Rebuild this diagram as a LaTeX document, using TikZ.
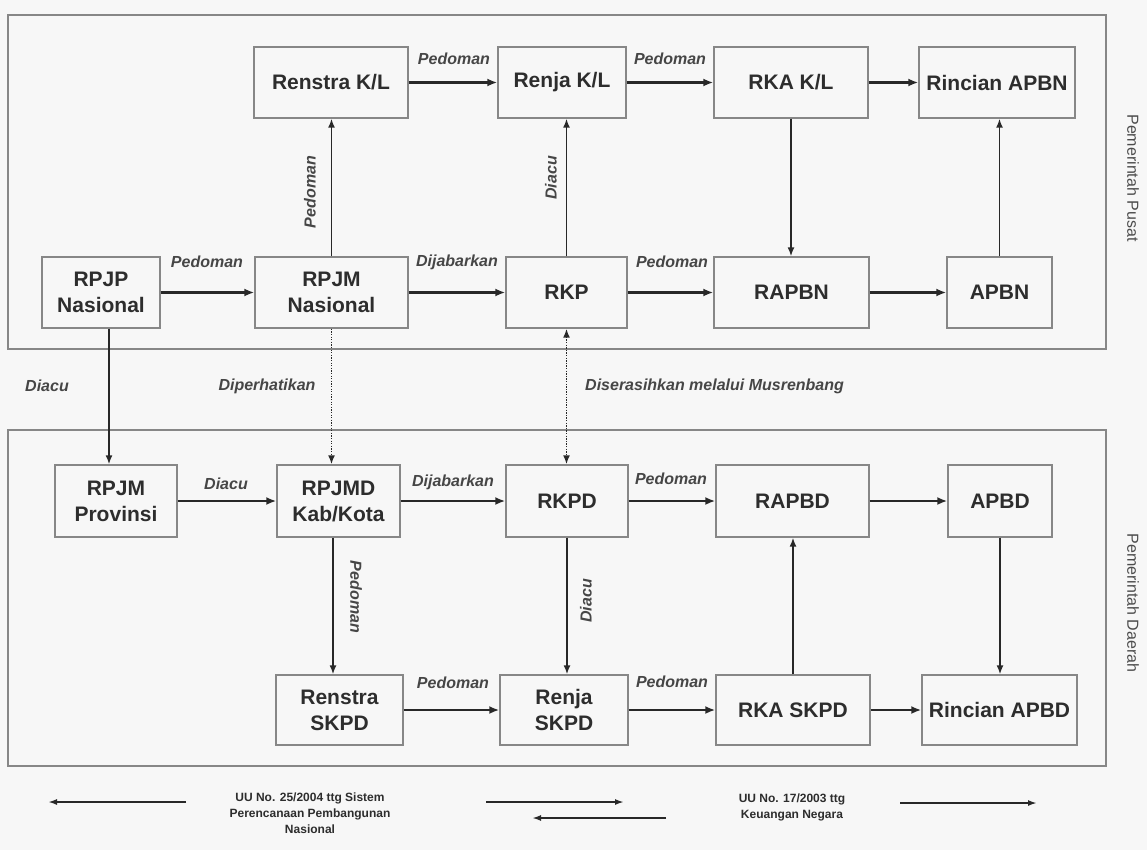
\documentclass[tikz,border=0pt]{standalone}
\usepackage{fontspec}
\setmainfont{Liberation Sans}
\usetikzlibrary{arrows.meta}
\definecolor{bg}{RGB}{247,247,247}
\definecolor{boxc}{RGB}{135,135,135}
\definecolor{txt}{RGB}{45,45,45}
\definecolor{arr}{RGB}{40,40,40}
\definecolor{lblc}{RGB}{70,70,70}
\begin{document}
\begin{tikzpicture}[x=1pt,y=-1pt,
  box/.style={draw=boxc, line width=1.4pt, inner sep=0pt, align=center, text=txt, font=\fontsize{21}{26}\selectfont\bfseries},
  sz/.style 2 args={minimum width=#1pt, minimum height=#2pt},
  region/.style={draw=boxc, line width=1.4pt},
  harr/.style={draw=arr, line width=2.6pt, -{Latex[length=10pt,width=8pt]}},
  varr/.style={draw=arr, line width=1.6pt, -{Latex[length=9pt,width=7pt]}},
  dotarr/.style={draw=arr, line width=1.7pt, dash pattern=on 1.3pt off 1.3pt},
  lbl/.style={text=lblc, font=\fontsize{16}{18}\selectfont\bfseries\itshape, inner sep=0pt},
  side/.style={text=txt!85, font=\fontsize{16}{18}\selectfont, inner sep=0pt},
  legtxt/.style={text=txt, font=\fontsize{12}{16}\selectfont\bfseries, align=center, inner sep=0pt},
  legarr/.style={draw=arr, line width=1.8pt, -{Latex[length=9pt,width=6pt]}}
]
\useasboundingbox (0,0) rectangle (1147,850);
\fill[bg] (0,0) rectangle (1147,850);

% regions
\draw[region] (8,15) rectangle (1106,349);
\draw[region] (8,430) rectangle (1106,766);
\node[side, rotate=-90] (pusat) at (1133,178) {Pemerintah Pusat};
\node[side, rotate=-90] (daerah) at (1133,603) {Pemerintah Daerah};

% top region boxes
\node[box, sz={154}{71}] (renstrakl) at (331,82.5) {Renstra K/L};
\node[box, sz={128}{71}] (renjakl) at (562,82.5) {Renja K/L};
\node[box, sz={154}{71}] (rkakl) at (791,82.5) {RKA K/L};
\node[box, sz={156}{71}] (rincianapbn) at (997,82.5) {Rincian APBN};
\node[box, sz={118}{71}] (rpjp) at (101,292.5) {RPJP\\Nasional};
\node[box, sz={153}{71}] (rpjmn) at (331.5,292.5) {RPJM\\Nasional};
\node[box, sz={121}{71}] (rkp) at (566.5,292.5) {RKP};
\node[box, sz={155}{71}] (rapbn) at (791.5,292.5) {RAPBN};
\node[box, sz={105}{71}] (apbn) at (999.5,292.5) {APBN};

% bottom region boxes
\node[box, sz={122}{72}] (rpjmprov) at (116,501) {RPJM\\Provinsi};
\node[box, sz={123}{72}] (rpjmd) at (338.5,501) {RPJMD\\Kab/Kota};
\node[box, sz={122}{72}] (rkpd) at (567,501) {RKPD};
\node[box, sz={153}{72}] (rapbd) at (792.5,501) {RAPBD};
\node[box, sz={104}{72}] (apbd) at (1000,501) {APBD};
\node[box, sz={127}{70}] (renstraskpd) at (339.5,710) {Renstra\\SKPD};
\node[box, sz={128}{70}] (renjaskpd) at (564,710) {Renja\\SKPD};
\node[box, sz={154}{70}] (rkaskpd) at (793,710) {RKA SKPD};
\node[box, sz={155}{70}] (rincianapbd) at (999.5,710) {Rincian APBD};

% horizontal connectors (top region)
\draw[harr] (renstrakl.east) -- (renjakl.west);
\draw[harr] (renjakl.east) -- (rkakl.west);
\draw[harr] (rkakl.east) -- (rincianapbn.west);
\draw[harr] (rpjp.east) -- (rpjmn.west);
\draw[harr] (rpjmn.east) -- (rkp.west);
\draw[harr] (rkp.east) -- (rapbn.west);
\draw[harr] (rapbn.east) -- (apbn.west);

% vertical connectors (top region)
\draw[varr] (rpjmn.north) -- (rpjmn.north |- renstrakl.south);
\draw[varr] (rkp.north) -- (rkp.north |- renjakl.south);
\draw[varr] (rkakl.south) -- (rkakl.south |- rapbn.north);
\draw[varr] (apbn.north) -- (apbn.north |- rincianapbn.south);

% between regions
\draw[varr] ([xshift=8pt]rpjp.south) -- ([xshift=8pt]rpjp.south |- rpjmprov.north);
\draw[dotarr, -{Latex[length=9pt,width=7pt]}] (rpjmn.south) -- (rpjmn.south |- rpjmd.north);
\draw[dotarr, {Latex[length=9pt,width=7pt]}-{Latex[length=9pt,width=7pt]}] (rkp.south) -- (rkp.south |- rkpd.north);

% horizontal connectors (bottom region)
\draw[harr] (rpjmprov.east) -- (rpjmd.west);
\draw[harr] (rpjmd.east) -- (rkpd.west);
\draw[harr] (rkpd.east) -- (rapbd.west);
\draw[harr] (rapbd.east) -- (apbd.west);
\draw[harr] (renstraskpd.east) -- (renjaskpd.west);
\draw[harr] (renjaskpd.east) -- (rkaskpd.west);
\draw[harr] (rkaskpd.east) -- (rincianapbd.west);

% vertical connectors (bottom region)
\draw[varr] ([xshift=-5.5pt]rpjmd.south) -- ([xshift=-5.5pt]rpjmd.south |- renstraskpd.north);
\draw[varr] (rkpd.south) -- (rkpd.south |- renjaskpd.north);
\draw[varr] (rkaskpd.north) -- (rkaskpd.north |- rapbd.south);
\draw[varr] (apbd.south) -- (apbd.south |- rincianapbd.north);

% labels
\node[lbl] (l1) at (454,59) {Pedoman};
\node[lbl] (l2) at (670,59) {Pedoman};
\node[lbl] (l3) at (207,262) {Pedoman};
\node[lbl] (l4) at (457,262) {Dijabarkan};
\node[lbl] (l5) at (672,262) {Pedoman};
\node[lbl, rotate=90] (l6) at (310,192) {Pedoman};
\node[lbl, rotate=90] (l7) at (551,178) {Diacu};
\node[lbl] (l8) at (47,386) {Diacu};
\node[lbl] (l9) at (267,386) {Diperhatikan};
\node[lbl, anchor=west] (l10) at (585,386) {Diserasihkan melalui Musrenbang};
\node[lbl] (l11) at (226,484) {Diacu};
\node[lbl] (l12) at (453,482) {Dijabarkan};
\node[lbl] (l13) at (671,479) {Pedoman};
\node[lbl, rotate=-90] (l14) at (356,597) {Pedoman};
\node[lbl, rotate=90] (l15) at (586,601) {Diacu};
\node[lbl] (l16) at (453,683) {Pedoman};
\node[lbl] (l17) at (672,682) {Pedoman};

% legend
\coordinate (la1) at (186,802); \coordinate (la2) at (48,802);
\draw[legarr] (la1) -- (la2);
\node[legtxt] (uu25) at (310,813) {UU No. 25/2004 ttg Sistem\\Perencanaan Pembangunan\\Nasional};
\coordinate (lb1) at (486,802); \coordinate (lb2) at (624,802);
\draw[legarr] (lb1) -- (lb2);
\coordinate (lc1) at (666,818); \coordinate (lc2) at (532,818);
\draw[legarr] (lc1) -- (lc2);
\node[legtxt] (uu17) at (792,807) {UU No. 17/2003 ttg\\Keuangan Negara};
\coordinate (ld1) at (900,803); \coordinate (ld2) at (1037,803);
\draw[legarr] (ld1) -- (ld2);
\end{tikzpicture}
\end{document}
